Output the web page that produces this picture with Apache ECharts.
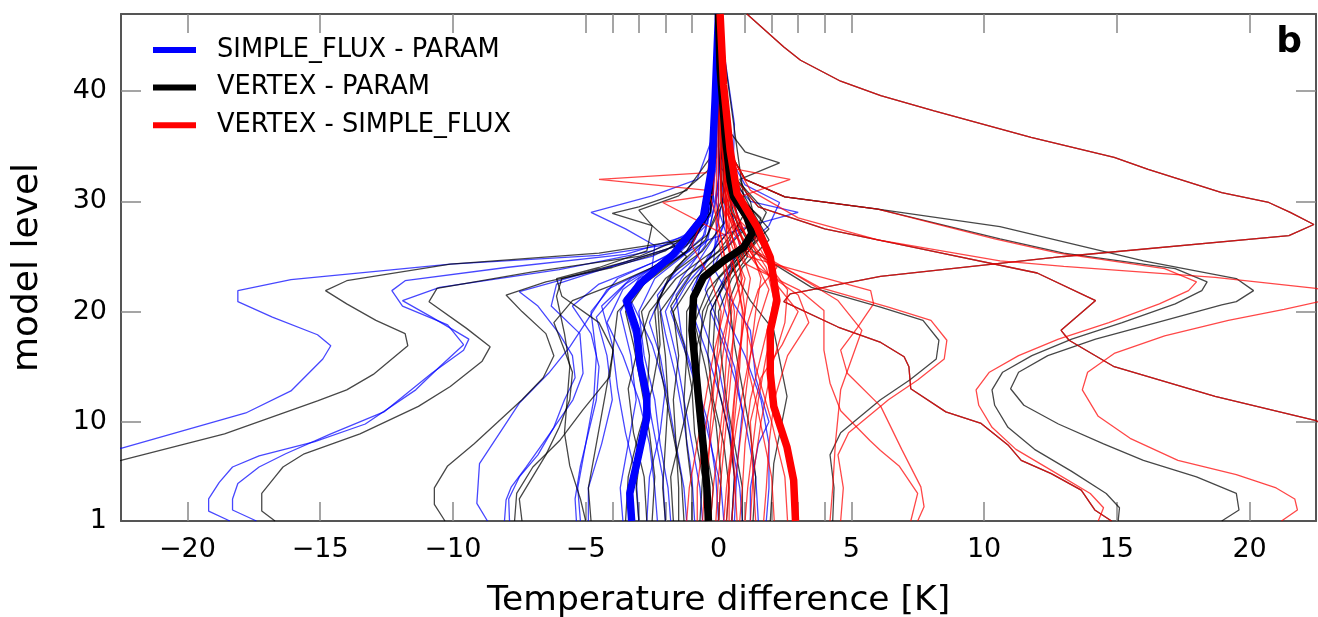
<!DOCTYPE html>
<html>
<head>
<meta charset="utf-8">
<script src="https://cdn.jsdelivr.net/npm/echarts@6/dist/echarts.min.js"></script>
<style>
  html, body { margin: 0; padding: 0; background: #fff; }
  #chart { width: 1318px; height: 617px; }
</style>
</head>
<body>
<div id="chart"></div>
<script>
// ejes
const X_LABELS = [-20, -15, -10, -5, 0, 5, 10, 15, 20];
const X_TICKS = [-20, -15, -10, -5, -4, -3, -2, -1, 0, 1, 2, 3, 4, 5, 10, 15, 20];
const Y_LABELS = [1, 10, 20, 30, 40];
const Y_TICKS = [10, 20, 30, 40];

const LEGEND_NAMES = ["SIMPLE_FLUX - PARAM", "VERTEX - PARAM", "VERTEX - SIMPLE_FLUX"];

// cada corrida: pares [diferencia de temperatura, nivel del modelo]
const wildRun = [[14.8,1],[14.17,2],[13.66,3.8],[12.53,5.3],[11.4,6.5],[10.9,7.9],[9.89,9.85],[8.56,10.9],[7.24,13],[7.17,15],[6.99,15.9],[6.11,17.2],[4.5,18.6],[2.46,20.9],[2.7,21.6],[6.1,23.2],[13,25],[21.48,26.9],[22.42,27.9],[21.53,29],[20.72,29.9],[18.95,30.8],[16.18,32.9],[14.9,34],[11.77,35.8],[8.12,38.2],[6.11,39.6],[4.6,40.9],[3.09,42.8],[2.46,44],[1.07,47]];
const twinRun = [[26,6],[22.5,10.1],[18.7,12.3],[14.9,15],[13.2,17.4],[12.9,18.3],[14.2,21],[12,23.5],[8,25.5],[4,27.5],[1.5,29.5],[0.3,33],[0,47]];

const blueRuns = [
  [[-24.5,6.7],[-22.5,7.6],[-17.8,10.8],[-16.1,12.8],[-14.9,15.7],[-14.6,16.9],[-15.1,17.9],[-16.8,19.5],[-18.1,20.9],[-18.1,21.9],[-16.1,22.9],[-10.1,24.3],[-4.5,25.1],[-1.1,26.4],[-0.3,28.7],[-0.1,34.6],[0,47]],
  [[-18.4,1],[-19.2,1.9],[-19.2,3],[-18.8,4.5],[-18.3,5.9],[-17.3,6.9],[-15.2,8.2],[-13.3,9.8],[-11.4,12.9],[-10.5,15],[-9.6,17],[-10.2,18.8],[-11.9,20.5],[-12.3,21.9],[-11.8,22.8],[-8,24],[-3.5,25.2],[-1.3,26.8],[-0.4,29],[-0.1,35],[0,47]],
  [[-17.4,1],[-18.3,2],[-18.3,3],[-18.1,4.4],[-17.3,5.9],[-16.3,7.1],[-14.6,8.9],[-12.6,10.9],[-10.8,14.4],[-9.6,16.5],[-9.4,17.5],[-10.8,19.5],[-11.9,21],[-10.5,22.2],[-6,23.8],[-2.5,25.5],[-0.8,27.5],[-0.3,30],[0,47]],
  [[-8.7,1],[-9.1,2.6],[-9.0,6.2],[-8.1,9.5],[-7.5,11.7],[-6.4,14.4],[-5.6,16.8],[-5.0,19],[-4.2,22],[-2.5,24],[-2.4,26],[-3.5,27.5],[-4.8,29],[-2.5,30.5],[-0.8,32],[-0.2,36],[0,47]],
  [[-8.06,1],[-8.0,2.9],[-7.8,4.1],[-7.24,5.9],[-6.36,8.9],[-5.48,12],[-5.1,14.4],[-5.22,18],[-6.3,20.5],[-6.1,22.5],[-3.5,24.5],[-1.5,26],[-0.5,28],[-0.1,35],[0,47]],
  [[-7.87,1],[-7.9,3],[-7.5,5],[-6.8,7],[-6.2,9.5],[-5.8,12],[-5.4,14],[-5.5,16],[-6.0,18],[-6.8,20.5],[-7.5,21.8],[-5,23.5],[-2.5,25],[-0.8,27],[-0.2,31],[0,47]],
  [[-5.35,1],[-5.4,3],[-5.2,6],[-4.9,9],[-4.6,12],[-4.5,15],[-4.8,18],[-5.5,20.5],[-4.5,22.5],[-2.4,24.5],[-0.9,26.5],[-0.2,30],[0,47]],
  [[-5.2,1],[-5.3,4],[-5.0,8],[-4.7,12],[-4.6,16],[-4.8,20],[-3.8,23],[-1.5,25.5],[-0.5,28],[-0.2,33],[0,47]],
  [[-4.9,1],[-4.9,4],[-4.4,8],[-4.0,12],[-4.2,16],[-4.6,19.5],[-3.5,22.5],[-1.8,25],[-0.7,27.5],[-0.1,34],[0,47]],
  [[-2.3,1],[-2.4,4],[-2.6,8],[-3.0,12],[-3.6,16],[-4.2,19],[-3.6,22],[-2.2,24.5],[-0.9,27],[-0.2,32],[0,47]],
  [[-1.8,1],[-1.9,4],[-2.2,8],[-2.4,12],[-2.8,16],[-3.0,20],[-2.4,23],[-1.1,25.5],[-0.4,29],[0,47]],
  [[-1.2,1],[-1.3,4],[-1.6,8],[-1.9,12],[-2.2,16],[-2.6,19],[-2.0,22.5],[-0.8,25],[-0.2,30],[0,47]],
  [[-0.6,1],[-0.7,4],[-1.0,8],[-1.3,12],[-1.6,16],[-2.0,20],[-1.4,23],[-0.5,26],[0,31],[0,47]],
  [[0.2,1],[0.1,4],[-0.3,8],[-0.7,12],[-1.2,16],[-1.8,20],[-1.2,22.5],[-0.3,25],[0.2,28],[0,35],[0,47]],
  [[0.9,1],[0.8,4],[0.5,8],[0.1,12],[-0.4,16],[-1.0,20],[-0.8,23],[-0.1,26],[0.3,28.5],[0,34],[0,47]],
  [[1.2,1],[1.2,4],[1.5,8],[1.9,10],[1.4,14],[1.2,18.3],[0.5,21],[-0.2,24],[0,30],[0,47]],
  [[1.8,1],[1.9,4],[1.9,8],[1.6,12],[1.0,16],[0.4,19],[0.0,22],[0.6,25],[1.9,27.8],[2.3,29.9],[1.0,31.5],[0.2,35],[0,47]],
  [[-3.6,1],[-3.7,4],[-3.4,8],[-3.1,12],[-3.3,16],[-3.7,20],[-3.0,23],[-1.4,25],[-0.5,27],[-0.1,33],[0,47]],
  [[-2.7,1],[-2.6,5],[-2.2,9],[-2.0,13],[-2.5,17],[-3.3,21],[-2.5,23.5],[-0.4,26.5],[1.5,28],[3.0,29],[1.2,30],[0.1,33],[0,47]],
  [[0.5,1],[0.6,5],[0.4,10],[0.0,15],[-0.6,19],[-1.0,22],[-0.4,25],[0.3,27],[-0.1,30],[0.2,36],[0,47]],
  [[1.5,1],[1.4,5],[1.0,10],[0.6,14],[0.2,17],[-0.3,20],[0.3,23],[0.8,26],[0.5,29],[0.6,37],[0,47]],
  [[-2.0,1],[-2.1,5],[-2.5,10],[-2.8,14],[-3.2,18],[-3.6,21],[-2.8,23],[-1.2,25.5],[-0.3,29],[0,47]],
  [[-0.9,1],[-1.0,5],[-1.3,10],[-1.6,14],[-2.0,18],[-2.3,21.5],[-1.5,24],[-0.4,26.5],[0,32],[0,47]],
  [[0.0,1],[-0.1,5],[-0.4,10],[-0.9,14],[-1.4,18],[-1.6,21.5],[-0.9,24],[-0.1,27],[0.3,32],[0,47]],
  [[0.6,1],[0.7,6],[0.9,11],[0.6,15],[0.0,19],[-0.5,22],[0.0,25],[0.9,27.5],[0.4,31],[0,47]],
  [[-3.0,1],[-3.1,5],[-3.5,9],[-3.8,13],[-4.0,17],[-4.4,20.5],[-3.3,23],[-1.6,25],[-0.4,28],[0,47]]
];

const blackRuns = [
  [[-24.5,5.3],[-22.5,6.5],[-18.6,8.9],[-15.1,11.9],[-14,12.9],[-13,14.3],[-11.7,16.9],[-11.8,18],[-12.9,19.2],[-14,20.7],[-14.8,21.9],[-14,22.8],[-10.1,24.3],[-4.5,25.3],[-1,26.6],[-0.3,29],[-0.1,35],[0,47]],
  [[-16.7,1],[-17.2,1.9],[-17.2,3.5],[-16.7,5],[-16.4,5.9],[-15.6,7.1],[-13.5,8.9],[-11.3,11.4],[-10.1,13.2],[-8.9,15.5],[-8.6,16.8],[-9.5,18.5],[-10.9,20.9],[-10.6,22.1],[-7,23.6],[-3,25],[-1,27],[-0.3,30],[0,47]],
  [[-10.3,1],[-10.7,2.5],[-10.7,4],[-10.2,6],[-9.2,8],[-8.3,10],[-7.4,12],[-6.6,14],[-6.2,16],[-6.5,18],[-7.4,20],[-8,21.5],[-6.5,22.7],[-4,24],[-2,25.5],[-0.6,28],[-0.1,34],[0,47]],
  [[-7.68,1],[-7.6,3.5],[-6.99,5.9],[-5.98,8.3],[-5.1,11.1],[-4.09,14.1],[-3.97,16.5],[-4.5,19],[-5.9,21.4],[-6.1,23],[-4.5,24],[-2.7,25.5],[-2.5,27.8],[-4.0,28.9],[-3.0,29.5],[-1.2,31],[-0.3,34],[0,47]],
  [[-7.4,1],[-7.5,3],[-7.0,5],[-6.5,7],[-6.0,9.5],[-5.6,12],[-5.5,14.5],[-5.8,16.5],[-6.2,19],[-5.5,21],[-3.9,22.5],[-2.5,24],[-1.2,26],[-0.4,29],[0,47]],
  [[-5.0,1],[-5.2,3],[-5.6,6],[-5.8,9],[-5.7,12],[-5.6,15],[-5.8,18],[-6.1,21.4],[-5.9,23],[-3.5,24.5],[-1.5,26],[-0.3,30],[0,47]],
  [[-4.8,1],[-4.9,4],[-4.6,8],[-4.3,12],[-4.0,16],[-3.8,20],[-2.6,23],[-1.2,25.5],[-0.3,29],[0,47]],
  [[-3.0,1],[-3.1,4],[-2.9,8],[-2.7,12],[-2.6,16],[-2.9,20],[-2.0,23],[-0.6,25.5],[0.2,28],[0,35],[0,47]],
  [[-2.0,1],[-2.1,4],[-2.0,8],[-1.9,12],[-2.0,16],[-2.2,20],[-1.3,23],[0.0,25.5],[0.8,28],[0.2,33],[0,47]],
  [[-1.5,1],[-1.5,4],[-1.6,8],[-1.7,12],[-1.5,16],[-1.7,20],[-0.9,23],[0.4,26],[1.2,28],[0.4,32],[0,47]],
  [[-1.0,1],[-1.0,4],[-1.2,8],[-1.3,12],[-1.2,16],[-1.2,20],[-0.5,23],[0.6,25.5],[1.5,27.5],[0.6,31],[0,47]],
  [[-0.3,1],[-0.2,4],[-0.5,8],[-0.8,12],[-0.7,16],[-0.6,20],[0.0,23],[1.0,25.5],[1.9,27.5],[0.8,30.5],[0.1,34],[0,47]],
  [[0.3,1],[0.4,4],[0.2,8],[-0.2,12],[-0.4,16],[-0.3,20],[0.3,23],[1.3,26],[1.6,28.5],[0.5,31],[0,47]],
  [[0.9,1],[0.9,4],[0.6,8],[0.3,12],[0.1,16],[0.0,20],[0.5,23],[1.1,25],[0.7,28],[0.2,32],[0,47]],
  [[1.95,1],[2.08,6.2],[2.58,12.3],[2.08,18.3],[1.2,21],[0.5,24],[1.3,27],[0.6,30],[0,47]],
  [[-3.5,1],[-3.4,5],[-3.0,9],[-2.5,13],[-2.2,17],[-2.3,21],[-1.6,24],[-0.5,26.5],[0.1,30],[0,47]],
  [[-2.5,1],[-2.4,5],[-2.6,9],[-2.9,13],[-3.2,17],[-3.5,20],[-2.8,22.5],[-1.7,24.5],[-0.4,27],[0.2,30],[0,47]],
  [[0.0,1],[0.1,5],[-0.1,10],[-0.5,15],[-0.9,19],[-0.4,22],[0.7,25],[1.5,27],[1.2,30],[0.8,32],[2.3,33.5],[1.0,34.5],[0.2,37],[0,47]],
  [[-1.3,1],[-1.4,5],[-1.8,10],[-2.2,15],[-2.4,20],[-1.9,23],[-1.2,25],[-2.5,27.8],[-3.0,29.2],[-1.5,30.5],[-0.3,33],[0,47]],
  [[-2.7,1],[-2.8,5],[-3.2,9],[-3.4,13],[-3.0,17],[-2.6,20],[-1.6,23],[-0.2,25.5],[0.6,28],[0.1,32],[0,47]],
  [[-1.7,1],[-1.8,5],[-1.4,9],[-1.0,13],[-1.3,17],[-1.8,20.5],[-1.0,23.5],[0.3,26],[1.0,29],[0.2,33],[0,47]],
  [[-0.7,1],[-0.6,5],[-0.9,9],[-1.0,13],[-0.8,17],[-0.4,20.5],[0.4,23.5],[1.2,26],[1.8,29],[0.3,33],[0,47]],
  [[0.5,1],[0.6,5],[0.4,9],[0.0,13],[-0.2,17],[-0.1,21],[0.6,24],[1.5,26.5],[1.0,29.5],[0,47]],
  [[1.3,1],[1.4,5],[1.2,9],[0.9,13],[0.6,17],[0.4,21],[0.9,24],[1.9,26.5],[1.3,29],[0.2,34],[0,47]],
  wildRun,
  twinRun,
  [[15.05,1],[15.1,2.2],[14.6,3.5],[13.3,5.5],[11.9,7.5],[10.9,9.5],[10.4,11.5],[10.3,12.9],[10.7,14.5],[11.8,16],[13.3,17.5],[15.2,19],[17.2,20.7],[18.2,21.9],[18.4,22.7],[17.2,23.9],[13,25.3],[10.6,26.6],[6,29.3],[2.5,30.4],[1,32],[0.3,35],[0,47]],
  [[18.95,1],[19.6,2],[19.5,3.5],[18.0,5],[16.0,6.5],[14.5,8],[12.8,9.8],[11.5,11.5],[11.0,13],[11.3,14.5],[12.4,16],[14.2,17.5],[16.5,19],[18.95,20.6],[19.5,20.9],[20.15,21.9],[19.5,23],[16,24.6],[10.6,27.7],[6,29.3],[2.5,30.4],[1,32],[0.3,35],[0,47]],
  [[4.3,1],[4.35,4],[4.2,7],[4.6,9],[6.1,12],[7.2,13.8],[8.2,15.7],[8.3,17.4],[7.7,19.2],[6.1,20.4],[3.5,22.2],[2.7,23.4],[1.3,25.5],[0.5,29],[0.1,35],[0,47]]
];

const redRuns = [
  [[-0.3,1],[-0.2,4],[0.0,8],[0.2,12],[0.3,16],[0.5,20],[0.3,24],[0.0,28],[0,47]],
  [[0.2,1],[0.3,4],[0.5,8],[0.6,12],[0.8,16],[1.0,20],[1.2,23],[0.8,26],[0.3,30],[0,47]],
  [[0.5,1],[0.6,4],[0.8,8],[1.0,12],[1.2,16],[1.4,20],[1.6,23],[1.2,26],[0.5,30],[0,47]],
  [[0.8,1],[0.9,4],[1.0,8],[1.2,12],[1.6,16],[2.0,20],[2.2,23],[1.5,26],[0.6,30],[0,47]],
  [[1.0,1],[1.1,4],[1.3,8],[1.5,12],[1.8,16],[2.2,20],[1.8,24],[1.0,27],[0.3,31],[0,47]],
  [[-1.2,1],[-1.1,4],[-0.8,8],[-0.5,12],[-0.2,16],[0.2,20],[0.5,24],[0.3,27],[0,47]],
  [[-0.8,1],[-0.8,4],[-0.6,8],[-0.3,12],[0.0,16],[0.4,20],[0.9,23],[0.6,26],[0.1,30],[0,47]],
  [[1.7,1],[1.8,4],[1.9,8],[2.1,12],[2.6,16],[3.4,19],[3.0,21.5],[1.5,24],[0.6,27],[0.1,31],[0,47]],
  [[2.1,1],[2.0,5],[1.45,11.4],[1.07,15.3],[1.1,19],[1.5,22],[2.2,24],[1.5,26.5],[0.5,29],[0,47]],
  [[-0.5,1],[-0.4,5],[-0.3,10],[-0.1,15],[0.1,20],[-0.3,23],[-1.0,26],[-0.5,29],[-0.2,35],[0,47]],
  [[0.0,1],[0.1,5],[0.3,10],[0.5,15],[0.6,20],[0.3,24],[0.0,28],[-0.4,31],[-4.5,32],[-0.4,32.6],[-0.2,38],[0,47]],
  [[0.4,1],[0.4,5],[0.6,10],[0.8,15],[0.9,20],[0.6,24],[0.2,27],[-2.1,29.9],[-0.2,30.6],[-0.1,36],[0,47]],
  [[2.6,1],[2.5,5],[2.0,10],[1.4,15],[1.0,19],[0.7,23],[0.3,27],[0.3,30],[2.7,32],[0.5,33],[0,47]],
  [[1.4,1],[1.3,5],[1.2,10],[1.6,14],[2.4,17],[3.0,20],[2.0,23],[1.0,26],[0.2,30],[0,47]],
  [[4.2,1],[4.3,4],[4.4,8],[4.6,12.9],[5.4,18.3],[4.5,21],[2.8,23.5],[1.2,25.5],[0.3,29],[0,47]],
  [[-0.1,1],[0.0,5],[0.2,10],[0.4,15],[0.7,20],[1.0,23],[0.5,26],[0.1,30],[0,47]],
  [[0.3,1],[0.4,5],[0.7,10],[1.1,15],[1.5,19],[1.9,22],[1.3,25],[0.4,29],[0,47]],
  [[0.7,1],[0.6,5],[0.5,10],[0.7,15],[1.0,20],[0.8,24],[0.4,28],[0,47]],
  [[1.2,1],[1.3,5],[1.6,10],[2.0,15],[2.5,19],[2.6,22],[1.8,24.5],[0.7,28],[0,47]],
  [[-0.6,1],[-0.5,5],[-0.2,10],[0.1,15],[0.4,20],[0.2,24],[-0.1,28],[0,47]],
  [[7.24,1],[7.5,3.5],[6.8,6],[6.1,7.4],[5.7,8.3],[4.6,11],[4.2,13.5],[3.97,16.5],[3.97,18.3],[3.97,20.1],[3.08,21.9],[0.95,24.4],[0.3,28],[0,47]],
  [[7.5,1],[7.74,2.3],[7.62,4.1],[6.9,7.5],[6.11,11.4],[4.85,14.4],[4.6,16.5],[5.22,18.5],[5.84,20.7],[5.73,21.9],[3.46,23.4],[1.07,25],[0.3,29],[0,47]],
  wildRun,
  twinRun,
  [[14.3,1],[14.5,2.2],[14.0,3.5],[12.6,5.5],[11.2,7.5],[10.3,9.5],[9.8,11.5],[9.7,12.9],[10.2,14.5],[11.3,16],[12.8,17.5],[14.7,19],[16.6,20.7],[17.7,21.9],[18.0,22.7],[16.8,23.9],[12.8,25.3],[10.4,26.6],[6,29.3],[2.5,30.4],[1,32],[0.3,35],[0,47]],
  [[21.2,1],[21.8,2],[21.7,3],[21.0,4],[19.5,5.2],[17.3,6.5],[15.5,8.5],[14.3,10.5],[13.7,12.9],[13.9,14.5],[14.9,16.2],[16.8,17.8],[19.2,19.2],[21.3,20.2],[22.6,20.9],[23.5,21.5],[22.5,22.1],[18.7,23.1],[13,24.1],[10.6,24.6],[6,26.5],[3,28.5],[1.2,31],[0.3,35],[0,47]],
  [[4.6,1],[4.7,4],[4.5,7],[4.9,9],[6.4,12],[7.5,13.8],[8.5,15.7],[8.6,17.4],[8.0,19.2],[6.4,20.4],[3.8,22.2],[2.9,23.4],[1.4,25.5],[0.5,29],[0.1,35],[0,47]]
];

// medias del ensamble (líneas gruesas)
const blueMean = [[-3.27,1],[-3.34,3.5],[-3.08,6.2],[-2.7,10.4],[-2.7,12.3],[-2.96,15.3],[-3.08,18.3],[-3.46,21],[-2.96,22.5],[-1.7,25.2],[-0.57,28.6],[-0.25,33.1],[-0.13,39.1],[0,47]];
const blackMean = [[-0.38,1],[-0.44,4.1],[-0.57,7.7],[-0.76,12.3],[-0.94,16.8],[-1.0,18.3],[-0.94,21.3],[-0.57,23.1],[0.19,24.6],[0.94,25.8],[1.26,27.1],[1.07,28.6],[0.57,30.4],[0.44,31.9],[0.25,36.1],[0.06,42.1],[0,47]];
const redMean = [[2.9,1],[2.83,4.7],[2.58,7.7],[2.08,11.4],[1.95,14.4],[1.95,18.3],[2.2,21],[1.95,24.9],[1.45,27.7],[0.7,30.7],[0.44,34.6],[0.19,40.6],[0.06,47]];

const FONT = "DejaVu Sans";
const COLORS = ["#0000ff", "#000000", "#ff0000"];

function serieFina(run, color, z) {
  return {
    type: "line",
    data: run,
    symbol: "none",
    showSymbol: false,
    silent: true,
    z: z,
    lineStyle: { color: color, width: 1.3, opacity: 0.72 },
    animation: false,
  };
}

function serieMedia(name, run, color) {
  return {
    name: name,
    type: "line",
    data: run,
    symbol: "none",
    showSymbol: false,
    silent: true,
    z: 10,
    color: color,
    lineStyle: { color: color, width: 7.5 },
    animation: false,
  };
}

const series = [];
blueRuns.forEach((r) => series.push(serieFina(r, COLORS[0], 2)));
blackRuns.forEach((r) => series.push(serieFina(r, COLORS[1], 3)));
redRuns.forEach((r) => series.push(serieFina(r, COLORS[2], 4)));
series.push(serieMedia(LEGEND_NAMES[0], blueMean, COLORS[0]));
series.push(serieMedia(LEGEND_NAMES[1], blackMean, COLORS[1]));
series.push(serieMedia(LEGEND_NAMES[2], redMean, COLORS[2]));

const axisLine = { show: true, onZero: false, lineStyle: { color: "#555", width: 2 } };
const tickStyle = { color: "#888", width: 1.5 };
const fmt = (v) => (v < 0 ? "\u2212" + -v : String(v));

const chart = echarts.init(document.getElementById("chart"));
chart.setOption({
  animation: false,
  backgroundColor: "#fff",
  textStyle: { fontFamily: FONT },
  grid: { left: 121, right: 2, top: 14, bottom: 96, containLabel: false, outerBoundsMode: "none" },
  legend: {
    data: LEGEND_NAMES.map((n, i) => ({ name: n, itemStyle: { color: COLORS[i] } })),
    orient: "vertical",
    left: 148,
    top: 31,
    icon: "rect",
    itemWidth: 43,
    itemHeight: 6,
    itemGap: 9.6,
    selectedMode: false,
    textStyle: { fontSize: 25.7, color: "#000", fontFamily: FONT, lineHeight: 28, padding: [0, 0, 0, 16] },
  },
  graphic: [
    {
      type: "text",
      right: 16,
      top: 25,
      style: { text: "b", font: "bold 36px DejaVu Sans", fill: "#000" },
    },
  ],
  xAxis: [
    {
      type: "value",
      position: "bottom",
      min: -22.5,
      max: 22.5,
      axisLine: axisLine,
      axisTick: { inside: true, length: 19, customValues: X_TICKS, lineStyle: tickStyle },
      axisLabel: { customValues: X_LABELS, formatter: fmt, fontSize: 27, color: "#000", margin: 15, fontFamily: FONT },
      splitLine: { show: false },
      name: "Temperature difference [K]",
      nameLocation: "middle",
      nameGap: 63,
      nameTextStyle: { fontSize: 34.5, color: "#000", fontFamily: FONT },
    },
    {
      type: "value",
      position: "top",
      min: -22.5,
      max: 22.5,
      axisLine: axisLine,
      axisTick: { inside: true, length: 19, customValues: X_TICKS, lineStyle: tickStyle },
      axisLabel: { show: false },
      splitLine: { show: false },
    },
  ],
  yAxis: [
    {
      type: "value",
      position: "left",
      min: 1,
      max: 47,
      axisLine: axisLine,
      axisTick: { inside: true, length: 20, customValues: Y_TICKS, lineStyle: tickStyle },
      axisLabel: { customValues: Y_LABELS, fontSize: 27, color: "#000", margin: 14, fontFamily: FONT },
      splitLine: { show: false },
      name: "model level",
      nameLocation: "middle",
      nameGap: 75,
      nameTextStyle: { fontSize: 36, color: "#000", fontFamily: FONT },
    },
    {
      type: "value",
      position: "right",
      min: 1,
      max: 47,
      axisLine: axisLine,
      axisTick: { inside: true, length: 20, customValues: Y_TICKS, lineStyle: tickStyle },
      axisLabel: { show: false },
      splitLine: { show: false },
    },
  ],
  series: series,
});
</script>
</body>
</html>
